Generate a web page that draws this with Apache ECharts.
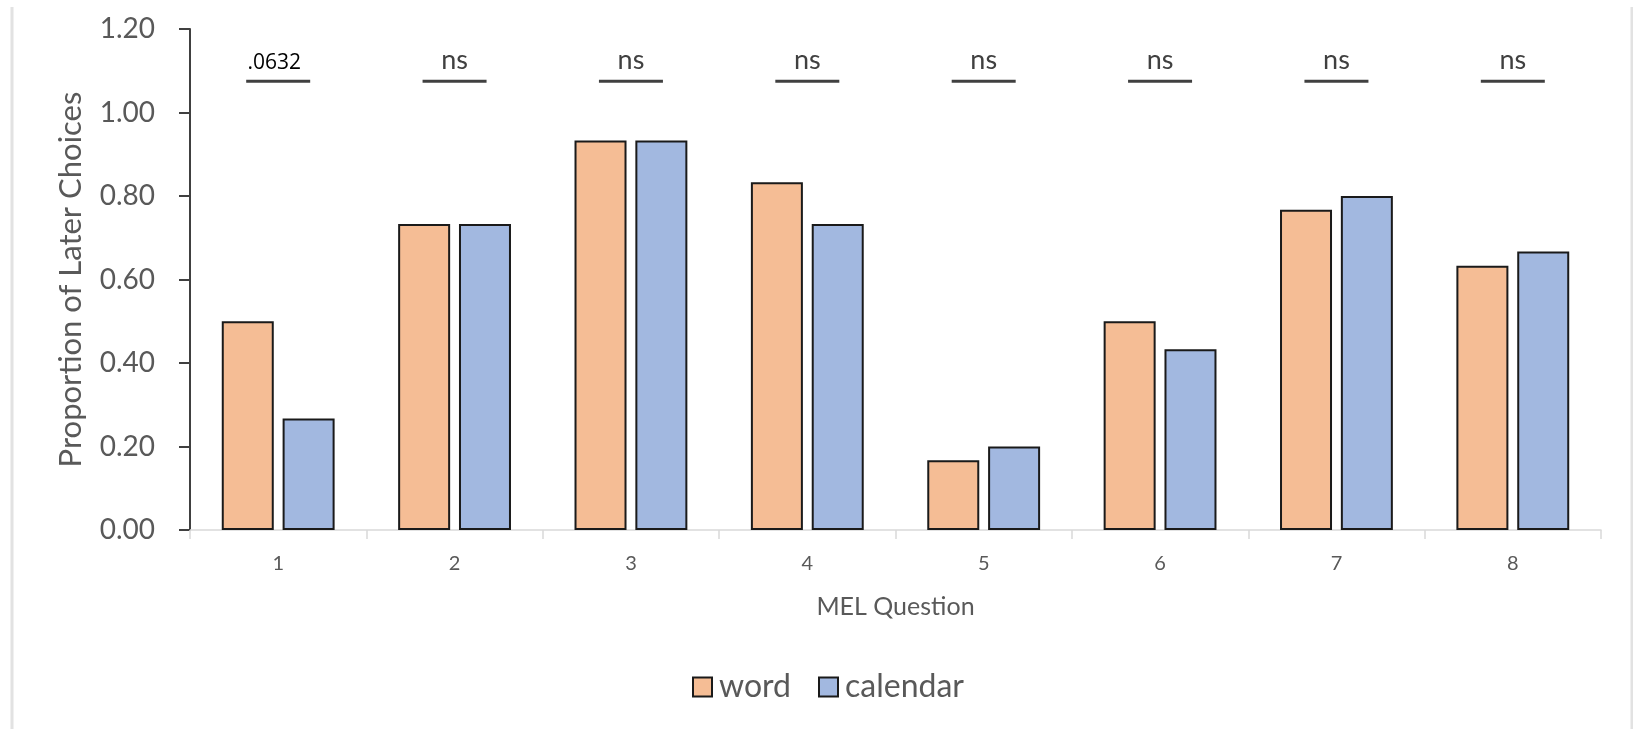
<!DOCTYPE html>
<html>
<head>
<meta charset="utf-8">
<title>Proportion of Later Choices by MEL Question</title>
<script src="https://cdn.jsdelivr.net/npm/echarts@6/dist/echarts.min.js"></script>
<style>
  html, body { margin: 0; padding: 0; background: #ffffff; }
  #chart { width: 1633px; height: 729px; }
</style>
</head>
<body>
<div id="chart"></div>
<script>
// MEL question numbers along the x axis
const questions = ['1', '2', '3', '4', '5', '6', '7', '8'];

// Proportion of later choices per condition
const wordValues = [0.500, 0.733, 0.933, 0.833, 0.167, 0.500, 0.767, 0.633];
const calendarValues = [0.267, 0.733, 0.933, 0.733, 0.200, 0.433, 0.800, 0.667];

// Significance annotation above each question pair
const sigLabels = ['.0632', 'ns', 'ns', 'ns', 'ns', 'ns', 'ns', 'ns'];
const sigLevel = 1.075;

// Y axis ticks
const yTicks = ['0.00', '0.20', '0.40', '0.60', '0.80', '1.00', '1.20'];

const FONT = 'Lato, "Open Sans", sans-serif';
const GREY = '#595959';
const DARK = '#404040';

const chart = echarts.init(document.getElementById('chart'), null, { renderer: 'canvas' });

chart.setOption({
  backgroundColor: '#ffffff',
  animation: false,
  textStyle: { fontFamily: FONT },
  // thin frame edges on the left and right of the panel
  graphic: [
    {
      type: 'line',
      silent: true,
      shape: { x1: 12, y1: 7, x2: 12, y2: 729 },
      style: { stroke: '#e2e2e2', lineWidth: 3 }
    },
    {
      type: 'line',
      silent: true,
      shape: { x1: 1632, y1: 7, x2: 1632, y2: 729 },
      style: { stroke: '#e2e2e2', lineWidth: 3 }
    }
  ],
  grid: { left: 190, right: 32, top: 29, bottom: 199 },
  legend: {
    bottom: 26,
    left: 692,
    padding: 0,
    itemWidth: 19,
    itemHeight: 19,
    itemGap: 27,
    icon: 'rect',
    textStyle: { fontFamily: FONT, fontSize: 32, color: GREY, padding: [0, 0, 0, 2] },
    data: ['word', 'calendar']
  },
  xAxis: {
    type: 'category',
    data: questions,
    name: 'MEL Question',
    nameLocation: 'middle',
    nameGap: 64,
    nameTextStyle: { fontFamily: FONT, fontSize: 25, color: GREY },
    axisLine: { lineStyle: { color: '#d9d9d9', width: 1.5 } },
    axisTick: { show: true, length: 9, lineStyle: { color: '#d9d9d9', width: 1.5 } },
    axisLabel: { fontFamily: FONT, fontSize: 20, color: GREY, margin: 24 }
  },
  yAxis: {
    type: 'value',
    min: 0,
    max: 1.2,
    interval: 0.2,
    name: 'Proportion of Later Choices',
    nameLocation: 'middle',
    nameGap: 104,
    nameTextStyle: { fontFamily: FONT, fontSize: 31, color: GREY },
    axisLine: { show: true, lineStyle: { color: DARK, width: 2 } },
    axisTick: { show: true, length: 11, lineStyle: { color: DARK, width: 2 } },
    splitLine: { show: false },
    axisLabel: {
      fontFamily: FONT,
      fontSize: 28,
      color: GREY,
      margin: 35,
      formatter: function (v) { return yTicks[Math.round(v / 0.2)] || v.toFixed(2); }
    }
  },
  series: [
    {
      name: 'word',
      type: 'bar',
      data: wordValues,
      barWidth: 52,
      barGap: '17%',
      itemStyle: { color: '#F5BD95', borderColor: '#1a1a1a', borderWidth: 2 }
    },
    {
      name: 'calendar',
      type: 'bar',
      data: calendarValues,
      barWidth: 52,
      itemStyle: { color: '#A2B8E0', borderColor: '#1a1a1a', borderWidth: 2 }
    },
    {
      name: 'significance',
      type: 'custom',
      silent: true,
      data: questions.map(function (q, i) { return [i, sigLevel]; }),
      renderItem: function (params, api) {
        const p = api.coord([api.value(0), api.value(1)]);
        const label = sigLabels[params.dataIndex];
        const isP = label !== 'ns';
        return {
          type: 'group',
          children: [
            {
              type: 'line',
              shape: { x1: p[0] - 32, y1: p[1], x2: p[0] + 32, y2: p[1] },
              style: { stroke: DARK, lineWidth: 3 }
            },
            {
              type: 'text',
              style: {
                text: label,
                x: isP ? p[0] - 4 : p[0],
                y: isP ? p[1] - 18 : p[1] - 21,
                align: 'center',
                verticalAlign: 'middle',
                fill: isP ? '#000000' : DARK,
                font: isP ? '21px "Open Sans", sans-serif' : '27px ' + FONT
              }
            }
          ]
        };
      },
      z: 5
    }
  ]
});
</script>
</body>
</html>
